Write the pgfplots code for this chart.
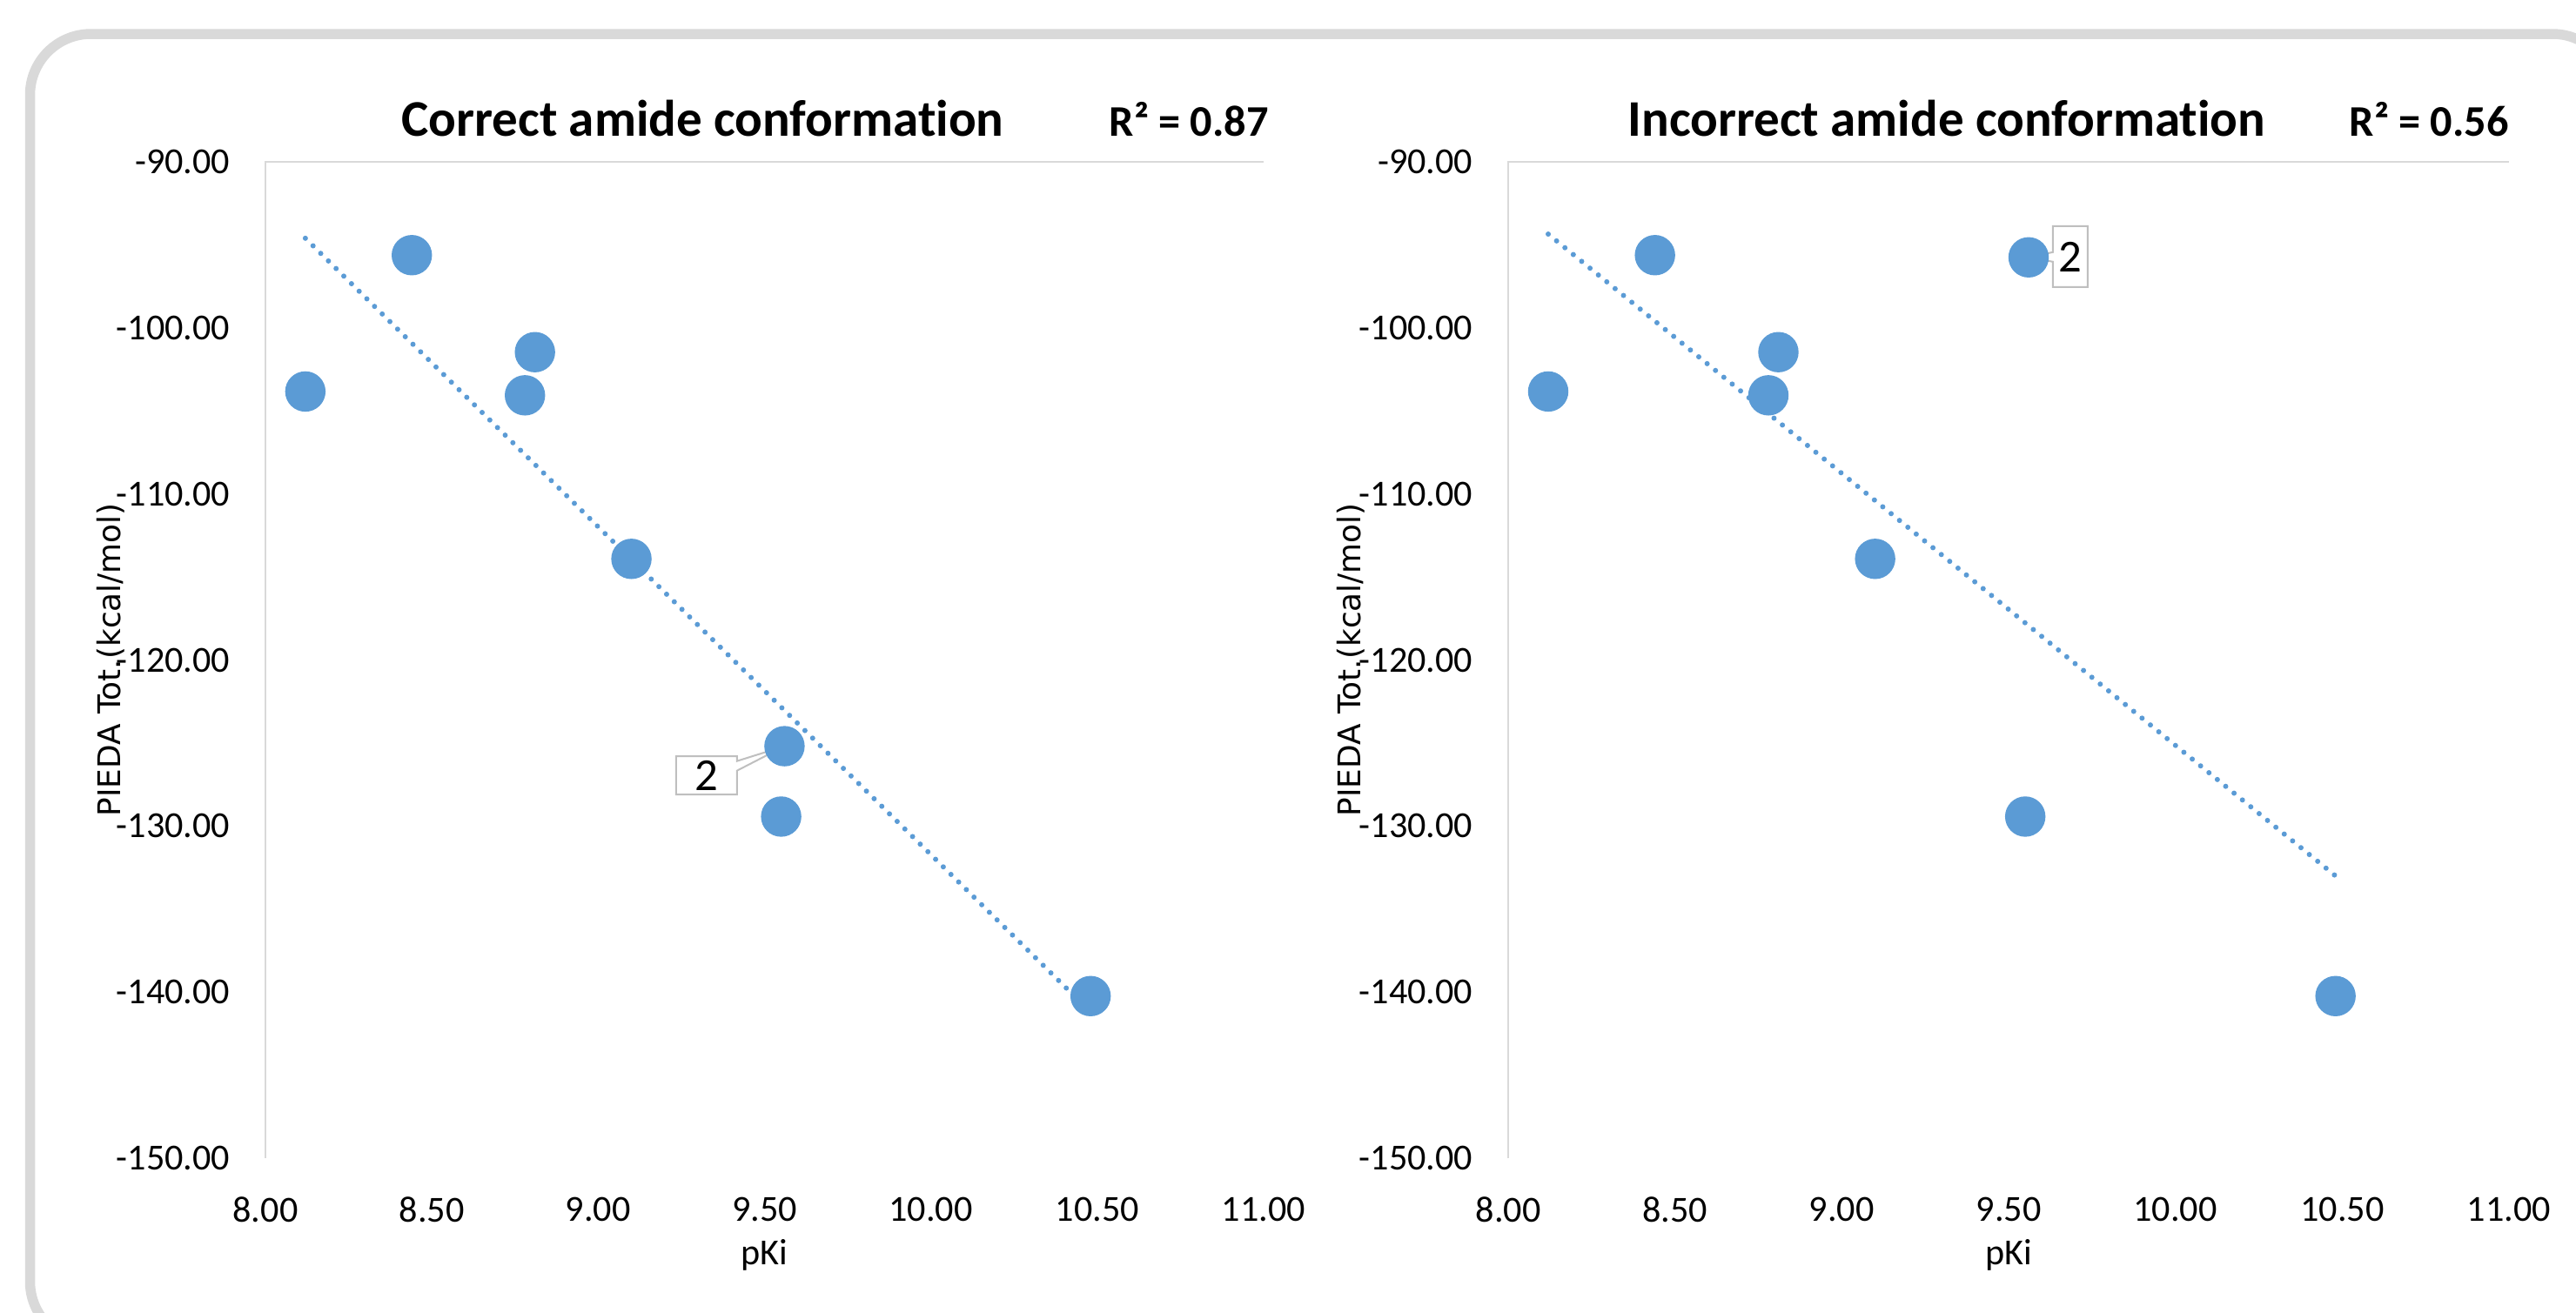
\documentclass[border=0pt]{standalone}
\usepackage{fontspec}
\setmainfont{Carlito}[Ligatures={NoCommon}]
\newfontfamily\dejavu{DejaVu Sans}
\usepackage{pgfplots}
\pgfplotsset{compat=1.18}
\usetikzlibrary{shapes.callouts}
\definecolor{ptblue}{HTML}{5B9BD5}
\definecolor{framegray}{HTML}{D9D9D9}
\definecolor{axgray}{HTML}{D9D9D9}
\definecolor{callgray}{HTML}{BFBFBF}

\tikzset{
  lbl/.style={rectangle callout, draw=callgray, fill=white, line width=0.2mm, inner sep=0pt,
    font=\fontsize{15}{18}\selectfont, callout pointer width=1.1mm},
}
\pgfplotsset{
  pieda/.style={
    scale only axis, anchor=south west,
    height=114.5mm,
    xmin=8, xmax=11, ymin=-150, ymax=-90,
    xtick={8,8.5,9,9.5,10,10.5,11},
    ytick={-150,-140,-130,-120,-110,-100,-90},
    major tick length=0pt,
    axis line style={draw=none},
    tick label style={font=\fontsize{12}{14}\selectfont, inner sep=0pt, text=black},
    /pgf/number format/fixed,
    /pgf/number format/fixed zerofill,
    /pgf/number format/precision=2,
    /pgf/number format/assume math mode=true,
    xticklabel style={anchor=north, yshift=-4.4mm},
    yticklabel style={anchor=east, xshift=-4mm},
    xlabel={pKi},
    xlabel style={font=\fontsize{12}{14}\selectfont, at={(axis description cs:0.5,-0.097)}, anchor=center},
    ylabel={PIEDA Tot.(kcal/mol)},
    ylabel style={font=\dejavu\fontsize{10.2}{12}\selectfont, anchor=center},
    clip=false,
  },
  pts/.style={only marks, mark=*, mark size=2.25mm, mark options={fill=ptblue, draw=ptblue}},
  trend/.style={ptblue, line width=0.6mm, dash pattern=on 0pt off 1.24mm, line cap=round},
}

\begin{document}
\begin{tikzpicture}
\useasboundingbox (0,0) rectangle (296mm,-150.9mm);
\begin{scope}
  \clip (0,0) rectangle (296mm,-150.9mm);
  \draw[framegray, line width=1.15mm]
    (6.95mm,-153.36mm) arc[start angle=240, end angle=180, radius=7mm]
    -- (3.45mm,-10.9mm) arc[start angle=180, end angle=90, radius=7mm]
    -- (293.3mm,-3.9mm) arc[start angle=90, end angle=50, radius=7mm];
\end{scope}

\node[anchor=base, font=\bfseries\fontsize{16.8}{20}\selectfont] at (80.75mm,-15.6mm) {Correct amide conformation};
\node[anchor=base east, font=\bfseries\fontsize{14.3}{17}\selectfont] at (147.0mm,-15.6mm) {R² = 0.87};
\node[anchor=base, font=\bfseries\fontsize{16.8}{20}\selectfont] at (223.7mm,-15.6mm) {Incorrect amide conformation};
\node[anchor=base east, font=\bfseries\fontsize{14.3}{17}\selectfont] at (289.5mm,-15.6mm) {R² = 0.56};

% Left panel: correct amide conformation
\begin{axis}[pieda, at={(30.5mm,-133.1mm)}, width=114.7mm,
  ylabel style={at={(axis description cs:-0.155,0.5)}}]
  \draw[axgray, line width=0.15mm] (rel axis cs:0,0) -- (rel axis cs:0,1) -- (rel axis cs:1,1);
  \addplot[pts] coordinates {
    (8.12,-103.83) (8.44,-95.62) (8.81,-101.46) (8.78,-104.06)
    (9.10,-113.91) (9.56,-125.19) (9.55,-129.43) (10.48,-140.24)
  };
  \addplot[trend] coordinates {(8.12,-94.6) (10.48,-141.2)};
  \node[lbl, minimum width=7mm, minimum height=4.4mm,
    callout absolute pointer={(axis cs:9.56,-125.19)}] at (axis cs:9.326,-126.95) {2};
\end{axis}

% Right panel: incorrect amide conformation
\begin{axis}[pieda, at={(173.3mm,-133.1mm)}, width=115.0mm,
  ylabel style={at={(axis description cs:-0.157,0.5)}}]
  \draw[axgray, line width=0.15mm] (rel axis cs:0,0) -- (rel axis cs:0,1) -- (rel axis cs:1,1);
  \addplot[pts] coordinates {
    (8.12,-103.83) (8.44,-95.62) (8.81,-101.46) (8.78,-104.06)
    (9.10,-113.91) (9.56,-95.75) (9.55,-129.43) (10.48,-140.24)
  };
  \addplot[trend] coordinates {(8.12,-94.35) (10.48,-133.0)};
  \node[lbl, minimum width=4mm, minimum height=7mm,
    callout absolute pointer={(axis cs:9.56,-95.75)}] at (axis cs:9.685,-95.71) {2};
\end{axis}
\end{tikzpicture}
\end{document}
